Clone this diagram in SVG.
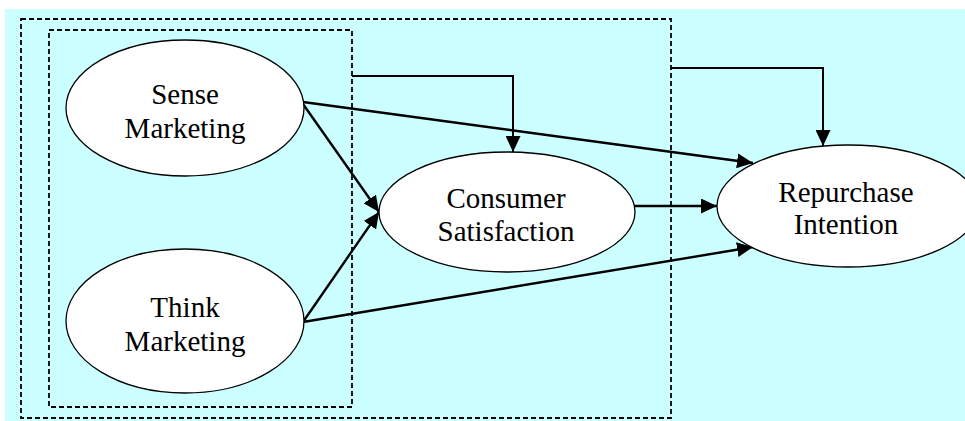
<svg xmlns="http://www.w3.org/2000/svg" width="965" height="421" viewBox="0 0 965 421">
<style>
.node ellipse{fill:#fff;stroke:#000;stroke-width:1.3}
.node text{font-family:"Liberation Serif","Times New Roman",serif;font-size:29px;fill:#000;text-anchor:middle}
.box{fill:none;stroke:#000;stroke-width:1.8;stroke-dasharray:5,3}
.edge{fill:none;stroke:#000;stroke-width:2.4;marker-end:url(#ah)}
</style>
<defs>
<marker id="ah" viewBox="0 0 16 15" refX="16" refY="7.5" markerWidth="16" markerHeight="15" markerUnits="userSpaceOnUse" orient="auto">
<path d="M0,0 L16,7.5 L0,15 Z" fill="#000"/>
</marker>
</defs>
<rect x="5" y="9" width="960" height="412" fill="#ccffff"/>
<g id="groups">
<rect class="box" x="21" y="19" width="650" height="399"/>
<rect class="box" x="49" y="30" width="303" height="377"/>
</g>
<g id="connectors">
<path class="edge" style="stroke-width:2" d="M352,76 H513 V152"/>
<path class="edge" style="stroke-width:2" d="M671,68 H823 V146"/>
<path class="edge" d="M303,102 L753,163"/>
<path class="edge" d="M303,104 L379,212"/>
<path class="edge" d="M303,322 L379,212"/>
<path class="edge" d="M303,322 L753,247"/>
<path class="edge" d="M634,206 L717,206"/>
</g>
<g id="sense" class="node">
<ellipse cx="185" cy="108" rx="119" ry="68"/>
<text x="185" y="104">Sense</text>
<text x="185" y="138">Marketing</text>
</g>
<g id="think" class="node">
<ellipse cx="185" cy="321" rx="119" ry="72"/>
<text x="185" y="317">Think</text>
<text x="185" y="351">Marketing</text>
</g>
<g id="consumer" class="node">
<ellipse cx="507" cy="212" rx="128" ry="60"/>
<text x="506" y="208">Consumer</text>
<text x="506" y="241">Satisfaction</text>
</g>
<g id="repurchase" class="node">
<ellipse cx="848" cy="206" rx="131" ry="61"/>
<text x="846" y="202">Repurchase</text>
<text x="846" y="234">Intention</text>
</g>
</svg>
